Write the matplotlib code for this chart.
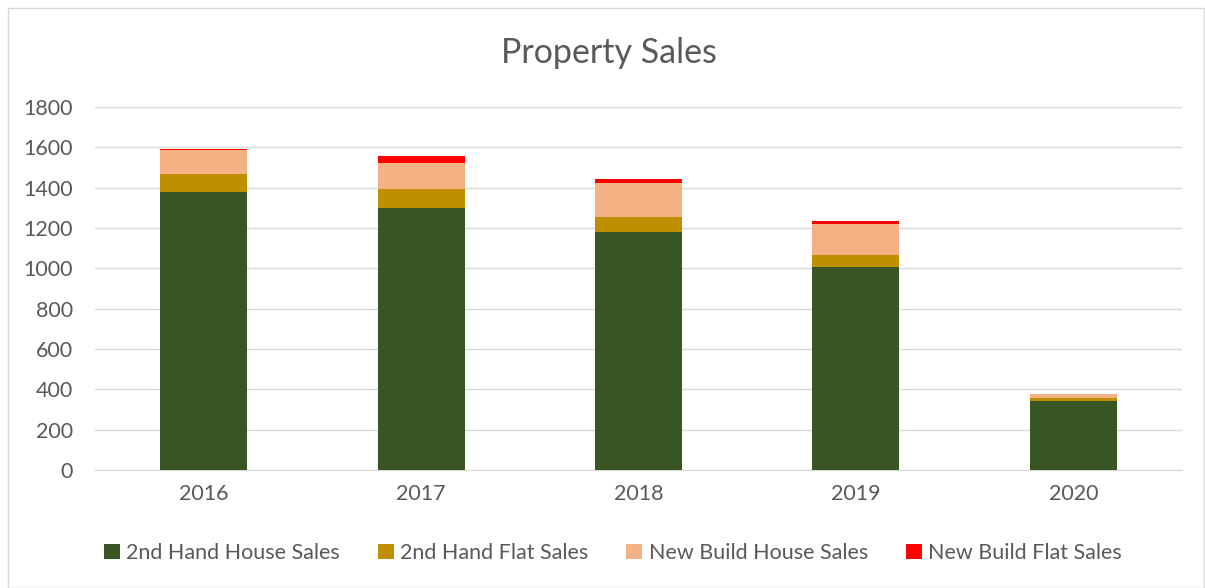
import matplotlib
matplotlib.use("Agg")
import matplotlib.pyplot as plt
import numpy as np

years = ["2016", "2017", "2018", "2019", "2020"]
second_hand_house = [1378, 1300, 1180, 1005, 340]
second_hand_flat = [91, 93, 77, 59, 17]
new_build_house = [116, 127, 164, 157, 18]
new_build_flat = [5, 35, 22, 15, 2]

series = [
    ("2nd Hand House Sales", second_hand_house, "#375623"),
    ("2nd Hand Flat Sales", second_hand_flat, "#BF8F00"),
    ("New Build House Sales", new_build_house, "#F4B183"),
    ("New Build Flat Sales", new_build_flat, "#FF0000"),
]

plt.rcParams['font.family'] = ['Lato', 'DejaVu Sans']

fig = plt.figure(figsize=(12.05, 5.88), dpi=100)
ax = fig.add_axes([95/1205, 1-470/588, 1087/1205, 363/588])

x = np.arange(len(years))
bottom = np.zeros(len(years))
handles = []
for name, vals, col in series:
    b = ax.bar(x, vals, width=0.4, bottom=bottom, color=col, label=name, zorder=3)
    bottom += np.array(vals)
    handles.append(b)

ax.set_xlim(-0.5, 4.5)
ax.set_ylim(0, 1800)
ax.set_yticks(range(0, 1801, 200))
ax.set_xticks(x)
ax.set_xticklabels(years)
ax.yaxis.grid(True, color="#d9d9d9", linewidth=1, zorder=0)
for s in ["top", "right", "left"]:
    ax.spines[s].set_visible(False)
ax.spines["bottom"].set_color("#d9d9d9")
ax.tick_params(axis="both", length=0, labelsize=15.5, colors="#595959")
ax.tick_params(axis="x", pad=10)
ax.tick_params(axis="y", pad=16)

fig.text(609/1205, 1-53/588, "Property Sales", ha="center", va="center", fontsize=24.5, color="#595959")

fig.legend(handles=handles, loc="center", bbox_to_anchor=(613/1205, 1-553/588), ncol=4,
           frameon=False, fontsize=15.5, handlelength=0.75, handleheight=0.75, handletextpad=0.3,
           columnspacing=1.75, labelcolor="#595959")

# chart border
border = plt.Rectangle((8/1205, 0), 1196/1205, 1-8/588, transform=fig.transFigure,
                       fill=False, edgecolor="#d9d9d9", linewidth=1)
fig.patches.append(border)

fig.savefig("out.png", dpi=100)
